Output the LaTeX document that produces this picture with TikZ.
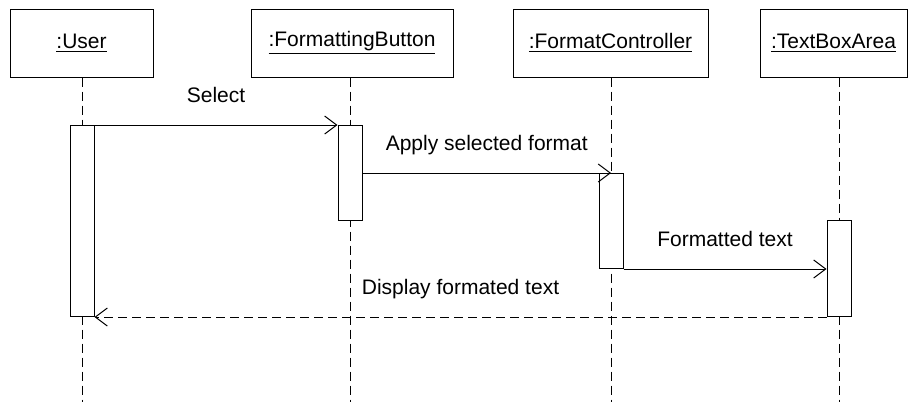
\documentclass[tikz,border=0pt]{standalone}
\usepackage{fontspec}
\setmainfont{Liberation Sans}
\usetikzlibrary{arrows.meta,positioning,calc}

\begin{document}
\begin{tikzpicture}[
  x=0.5pt, y=-0.5pt,
  font=\fontsize{10.5}{12}\selectfont,
  line width=0.5pt,
  obj/.style={draw=black, rectangle, minimum height=34pt, align=center, inner sep=2pt},
  act/.style={draw=black, fill=white, rectangle, minimum width=12pt, inner sep=0pt, anchor=north},
  life/.style={dash pattern=on 4.5pt off 2.5pt},
  msg/.style={-{Straight Barb[length=6pt, width=9pt, line width=0.5pt]}},
  reply/.style={msg, dash pattern=on 4.5pt off 2.5pt},
  lbl/.style={midway, anchor=base, yshift=11.5pt},
]
  \useasboundingbox (0,0) rectangle (910,402);

  % objects
  \node[obj, minimum width=71.5pt] (user) at (81.5,43) {\underline{:User}};
  \node[obj, minimum width=101pt] (button) at (352,43) {\underline{:FormattingButton}};
  \node[obj, minimum width=97.5pt] (ctrl) at (610.5,43) {\underline{:FormatController}};
  \node[obj, minimum width=73.5pt] (area) at (833.5,43) {\underline{:TextBoxArea}};

  % lifelines
  \coordinate (userend) at (82,402);
  \coordinate (buttonend) at (350,402);
  \coordinate (ctrlend) at (611,402);
  \coordinate (areaend) at (839,402);
  \draw[life] (user.south -| userend) -- (userend);
  \draw[life] (button.south -| buttonend) -- (buttonend);
  \draw[life] (ctrl.south -| ctrlend) -- (ctrlend);
  \draw[life] (area.south -| areaend) -- (areaend);

  % activations
  \node[act, minimum height=95.5pt] (useract) at (82,125) {};
  \node[act, minimum height=47.5pt] (buttonact) at (350,125) {};
  \node[act, minimum height=47.5pt] (ctrlact) at (611,173) {};
  \node[act, minimum height=48pt] (areaact) at (839,220) {};

  % messages
  \draw[msg] (useract.north east) -- (buttonact.north west) node[lbl] {Select};
  \draw[msg] (buttonact.east |- ctrlact.north) -- (ctrlact.north) node[lbl] {Apply selected format};
  \draw[msg] (ctrlact.south east) -- (areaact.west |- ctrlact.south) node[lbl] {Formatted text};
  \draw[reply] (areaact.south west) -- (useract.south east) node[lbl] {Display formated text};
\end{tikzpicture}
\end{document}
